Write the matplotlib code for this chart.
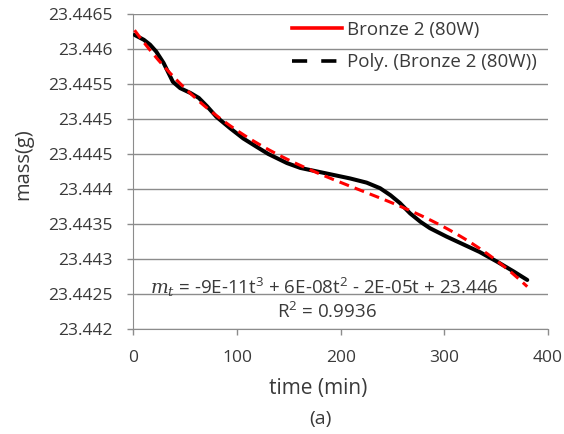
import numpy as np
import matplotlib.pyplot as plt
from matplotlib.lines import Line2D

# mass readings of Bronze 2 (80W)
time_min = [1, 10, 16, 22, 29, 34, 38, 45, 55, 63, 71, 80, 93, 106, 119,
            130, 148, 161, 177, 193, 209, 225, 238, 248, 257, 267,
            277, 286, 302, 318, 334, 351, 367, 380]
mass_g = [23.44620, 23.44613, 23.44606, 23.44596, 23.44580, 23.44565,
          23.44553, 23.44544, 23.44537, 23.44530, 23.44518, 23.44503,
          23.44487, 23.44472, 23.44460, 23.44450, 23.44437,
          23.44430, 23.44425, 23.44420, 23.44415, 23.44409, 23.44401,
          23.44391, 23.44380, 23.44365, 23.44353, 23.44344, 23.44332,
          23.44321, 23.44310, 23.44296, 23.44282, 23.44270]

x_ticks = [0, 100, 200, 300, 400]
y_ticks = [23.442, 23.4425, 23.443, 23.4435, 23.444, 23.4445,
           23.445, 23.4455, 23.446, 23.4465]
y_labels = ['23.442', '23.4425', '23.443', '23.4435', '23.444', '23.4445',
            '23.445', '23.4455', '23.446', '23.4465']

eq_text = '$m_t$ = -9E-11t$^3$ + 6E-08t$^2$ - 2E-05t + 23.446'
r2_text = 'R$^2$ = 0.9936'

plt.rcParams['font.family'] = ['Open Sans', 'DejaVu Sans']
plt.rcParams['mathtext.fontset'] = 'custom'
plt.rcParams['mathtext.it'] = 'DejaVu Serif:italic'
plt.rcParams['mathtext.rm'] = 'Open Sans'

grey = '#8c8c8c'
txt = '#3a3a3a'

fig = plt.figure(figsize=(5.64, 4.34), dpi=100)
ax = fig.add_axes([0.2367, 0.242, 0.7349, 0.726])

# polynomial trendline (3rd order), as excel does it
coef = np.polyfit(time_min, mass_g, 3)
t_fit = np.linspace(min(time_min), max(time_min), 200)

ax.plot(time_min, mass_g, color='black', lw=2.9, solid_capstyle='round',
        solid_joinstyle='round', zorder=3)
ax.plot(t_fit, np.polyval(coef, t_fit), color='red', lw=2.2, ls=(0, (3.3, 2.0)), zorder=4)

ax.set_xlim(0, 400)
ax.set_ylim(23.442, 23.4465)
ax.set_xticks(x_ticks)
ax.set_yticks(y_ticks)
ax.set_yticklabels(y_labels)
ax.tick_params(axis='both', colors=grey, labelcolor=txt, labelsize=12.5,
               length=4.5, width=1, direction='out')
ax.tick_params(axis='y', pad=10.5)
ax.tick_params(axis='x', pad=10.5)
ax.grid(axis='y', color=grey, lw=1)
ax.set_axisbelow(True)
for s in ['top', 'right']:
    ax.spines[s].set_visible(False)
for s in ['left', 'bottom']:
    ax.spines[s].set_color(grey)

ax.set_ylabel('mass(g)', fontsize=14.5, color=txt)
ax.yaxis.set_label_coords(-0.2425, 0.524)
ax.set_xlabel('time (min)', fontsize=15, color=txt)
ax.xaxis.set_label_coords(0.445, -0.157)
fig.text(0.569, 0.0346, '(a)', fontsize=14, color=txt, ha='center', va='center')

ax.text(0.461, 0.133, eq_text, transform=ax.transAxes, ha='center', va='center',
        fontsize=13.5, color=txt)
ax.text(0.467, 0.054, r2_text, transform=ax.transAxes, ha='center', va='center',
        fontsize=13.5, color=txt)

handles = [Line2D([], [], color='red', lw=2.6),
           Line2D([], [], color='black', lw=2.6, ls=(0, (4.2, 3.9)))]
fig.legend(handles, ['Bronze 2 (80W)', 'Poly. (Bronze 2 (80W))'],
           loc='upper left', bbox_to_anchor=(0.5177, 0.952), frameon=False,
           fontsize=13.5, labelcolor=txt, handlelength=2.67, handletextpad=0.27,
           labelspacing=0.76, borderpad=0, borderaxespad=0)

plt.savefig('out.png', dpi=100)
